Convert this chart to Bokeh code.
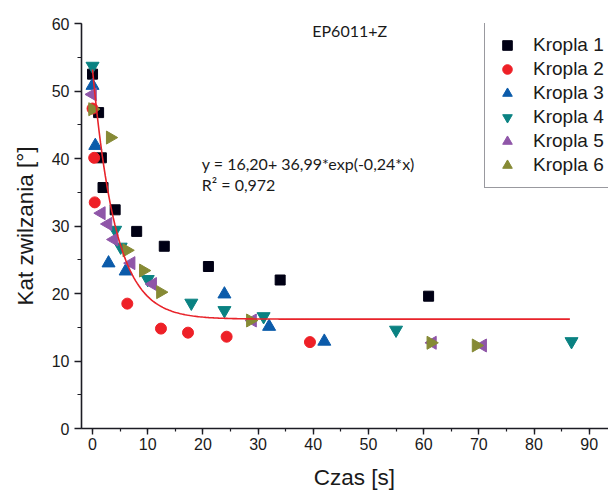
import numpy as np
from bokeh.plotting import figure
from bokeh.models import Range1d, SingleIntervalTicker, Label, Legend
from bokeh.embed import file_html
from bokeh.resources import INLINE

# ---- data ----
k1_x = [0, 1.1, 1.6, 1.9, 4.1, 8.0, 13.0, 21.0, 34.0, 60.9]
k1_y = [52.5, 46.8, 40.1, 35.7, 32.4, 29.2, 27.0, 24.0, 22.0, 19.6]

k2_x = [0, 0.3, 0.4, 6.3, 12.4, 17.3, 24.3, 39.4]
k2_y = [47.4, 40.1, 33.5, 18.5, 14.8, 14.2, 13.6, 12.8]

k3_x = [0, 0.5, 2.9, 6.0, 23.9, 32.0, 42.0]
k3_y = [50.8, 41.9, 24.5, 23.3, 19.9, 15.1, 12.9]

k4_x = [0, 4.1, 5.1, 10.0, 17.9, 23.9, 31.0, 55.0, 86.8]
k4_y = [53.7, 29.4, 26.9, 22.1, 18.6, 17.5, 16.6, 14.6, 12.9]

k5_x = [0, 1.6, 2.8, 3.9, 7.0, 10.9, 29.0, 61.6, 70.7]
k5_y = [49.5, 31.9, 30.3, 28.0, 24.5, 21.4, 16.0, 12.7, 12.3]

k6_x = [0, 3.2, 6.2, 9.2, 12.3, 28.6, 61.3, 69.5]
k6_y = [47.3, 43.1, 26.4, 23.4, 20.2, 16.0, 12.7, 12.3]

series_names = ["Kropla 1", "Kropla 2", "Kropla 3", "Kropla 4", "Kropla 5", "Kropla 6"]

# fitted model shown on the chart: y = 16,20 + 36,99*exp(-0,24*x)
fit_y0 = 16.20
fit_a = 36.99
fit_k = -0.24
fit_x_start = 0.0
fit_x_end = 86.5

# ---- figure ----
p = figure(width=608, height=494, x_range=Range1d(-2, 93.5), y_range=Range1d(0, 60),
           output_backend="svg", toolbar_location=None,
           min_border_left=81, min_border_right=0, min_border_top=23, min_border_bottom=66)
p.outline_line_color = None
p.xgrid.grid_line_color = None
p.ygrid.grid_line_color = None
p.background_fill_color = "white"
p.border_fill_color = "white"

axcol = "#1c1c24"
p.xaxis.ticker = SingleIntervalTicker(interval=10, num_minor_ticks=2)
p.yaxis.ticker = SingleIntervalTicker(interval=10, num_minor_ticks=2)
for ax in (p.xaxis, p.yaxis):
    ax.axis_line_color = axcol
    ax.axis_line_width = 1.6
    ax.major_tick_line_color = axcol
    ax.minor_tick_line_color = axcol
    ax.major_tick_line_width = 1.4
    ax.minor_tick_line_width = 1.2
    ax.major_tick_in = 0
    ax.minor_tick_in = 0
    ax.major_label_text_font = "Liberation Sans"
    ax.major_label_text_font_size = "16px"
    ax.major_label_text_color = "#1a1a1a"
    ax.axis_label_text_font = "Liberation Sans"
    ax.axis_label_text_font_size = "22.5px"
    ax.axis_label_text_font_style = "normal"
    ax.axis_label_text_color = "#1a1a1a"

p.xaxis.major_tick_out = 6
p.xaxis.minor_tick_out = 3
p.yaxis.major_tick_out = 7
p.yaxis.minor_tick_out = 4
p.xaxis.major_label_standoff = 3
p.yaxis.major_label_standoff = 5
p.yaxis.axis_label = "Kat zwilzania [°]"
p.yaxis.axis_label_standoff = 11
# leading no-break spaces shift the centred title a little right, as in the original
p.xaxis.axis_label = "\u00a0\u00a0\u00a0Czas [s]"
p.xaxis.axis_label_standoff = 12

cols = ["#000014", "#EE2027", "#0B5BAA", "#0A8282", "#8F56A8", "#868A35"]

r1 = p.scatter(k1_x, k1_y, marker="square", size=10, color=cols[0])
r2 = p.scatter(k2_x, k2_y, marker="circle", size=11, color=cols[1])
r3 = p.scatter(k3_x, k3_y, marker="triangle", size=13, color=cols[2])
r4 = p.scatter(k4_x, k4_y, marker="inverted_triangle", size=13, color=cols[3])
r5 = p.scatter(k5_x, k5_y, marker="triangle", angle=np.pi / 2, size=13, color=cols[4])
r6 = p.scatter(k6_x, k6_y, marker="triangle", angle=-np.pi / 2, size=13, color=cols[5])

fx = np.linspace(fit_x_start, fit_x_end, 300)
fy = fit_y0 + fit_a * np.exp(fit_k * fx)
p.line(fx, fy, line_color="#E8232A", line_width=1.6)

legend = Legend(items=[(n, [r]) for n, r in zip(series_names, [r1, r2, r3, r4, r5, r6])],
                location=(403, 240))
legend.label_text_font = "Liberation Sans"
legend.label_text_font_size = "19px"
legend.label_text_color = "#1a1a1a"
legend.glyph_width = 24
legend.glyph_height = 24
legend.label_height = 24
legend.label_width = 95
legend.spacing = 0
legend.padding = 10
legend.label_standoff = 14
legend.border_line_color = "#333340"
legend.border_line_width = 1.2
legend.background_fill_alpha = 1.0
p.add_layout(legend, "center")

ann_font = "Lato"
p.add_layout(Label(x=46.6, y=58.9, text="EP6011+Z", text_font=ann_font, text_font_size="16px",
                   text_align="center", text_baseline="middle", text_color="#1a1a1a"))
p.add_layout(Label(x=19.8, y=39.2, text="y = 16,20+ 36,99*exp(-0,24*x)", text_font=ann_font,
                   text_font_size="16px", text_align="left", text_baseline="middle", text_color="#1a1a1a"))
p.add_layout(Label(x=19.8, y=36.2, text="R² = 0,972", text_font=ann_font,
                   text_font_size="16px", text_align="left", text_baseline="middle", text_color="#1a1a1a"))

open("out.html", "w").write(file_html(p, INLINE))
